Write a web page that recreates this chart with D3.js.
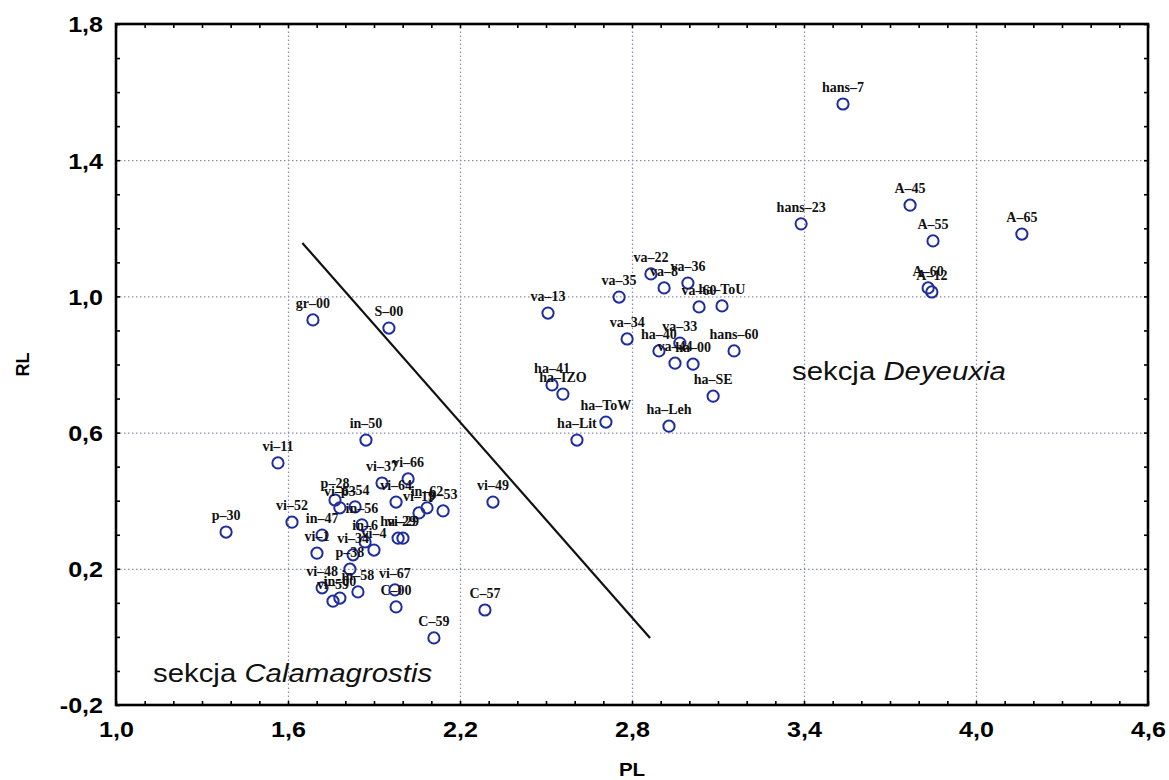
<!DOCTYPE html>
<html>
<head>
<meta charset="utf-8">
<script src="https://cdn.jsdelivr.net/npm/d3@7"></script>
<style>
  body { margin: 0; background: #ffffff; }
  svg { display: block; }
</style>
</head>
<body>
<svg id="chart" width="1169" height="780"></svg>
<script>
// Population codes with their PL / RL scores
const names = [
  "hans–7", "hans–23", "A–45", "A–55", "A–65", "A–60", "A–12",
  "va–13", "va–35", "va–22", "va–8", "va–36", "va–60", "ha–ToU",
  "va–34", "ha–40", "va–33", "va–44", "ha–00", "hans–60", "ha–SE",
  "ha–41", "ha–IZO", "ha–ToW", "ha–Leh", "ha–Lit",
  "gr–00", "S–00", "in–50", "vi–11", "p–30", "vi–37", "vi–66",
  "p–28", "vi–63", "p–54", "vi–64", "vi–19", "in–62", "p–53",
  "vi–52", "in–47", "in–56", "in–6", "ha–29", "vi–29", "vi–1",
  "vi–34", "vi–4", "p–38", "vi–48", "vi–59", "in–00", "in–58",
  "vi–67", "C–00", "C–59", "C–57", "vi–49"
];
const plValues = [
  3.536, 3.390, 3.770, 3.850, 4.160, 3.833, 3.846,
  2.507, 2.755, 2.866, 2.912, 2.995, 3.034, 3.114,
  2.783, 2.894, 2.967, 2.950, 3.013, 3.156, 3.083,
  2.521, 2.559, 2.709, 2.929, 2.608,
  1.687, 1.952, 1.872, 1.565, 1.384, 1.928, 2.019,
  1.764, 1.781, 1.834, 1.977, 2.057, 2.085, 2.141,
  1.614, 1.719, 1.858, 1.869, 1.984, 2.001, 1.701,
  1.827, 1.900, 1.816, 1.719, 1.757, 1.781, 1.844,
  1.973, 1.977, 2.109, 2.287, 2.315
];
const rlValues = [
  1.565, 1.213, 1.268, 1.163, 1.183, 1.025, 1.013,
  0.951, 0.998, 1.066, 1.025, 1.039, 0.969, 0.972,
  0.875, 0.840, 0.863, 0.804, 0.801, 0.840, 0.707,
  0.740, 0.713, 0.631, 0.619, 0.578,
  0.931, 0.907, 0.578, 0.511, 0.308, 0.452, 0.464,
  0.402, 0.379, 0.382, 0.396, 0.364, 0.379, 0.370,
  0.337, 0.299, 0.329, 0.279, 0.290, 0.290, 0.246,
  0.241, 0.255, 0.199, 0.144, 0.105, 0.114, 0.132,
  0.138, 0.088, -0.003, 0.079, 0.396
];

// Axis ticks
const xTicks = [1.0, 1.6, 2.2, 2.8, 3.4, 4.0, 4.6];
const yTicks = [-0.2, 0.2, 0.6, 1.0, 1.4, 1.8];
const xMinorTicks = d3.range(10, 47).map(v => v / 10);
const yMinorTicks = d3.range(-2, 19).map(v => v / 10);

// Dividing line between the two sections (PL, RL end points)
const dividerPL = [1.650, 2.863];
const dividerRL = [1.157, -0.003];

const points = names.map((n, i) => ({ name: n, pl: plValues[i], rl: rlValues[i] }));
const divider = dividerPL.map((v, i) => ({ pl: v, rl: dividerRL[i] }));

const plotL = 116, plotR = 1148, plotT = 24, plotB = 705;
const x = d3.scaleLinear().domain([1.0, 4.6]).range([plotL, plotR]);
const y = d3.scaleLinear().domain([-0.2, 1.8]).range([plotB, plotT]);

const svg = d3.select("#chart");
svg.append("rect").attr("width", 1169).attr("height", 780).attr("fill", "#ffffff");

const fmt = v => d3.format(".1f")(v).replace(".", ",").replace("\u2212", "-");
const STRETCH = 1.14;

// Dotted grid at the major ticks
const gridColor = "#8a8ab4";
svg.append("g")
  .attr("transform", `translate(0,${plotB})`)
  .call(d3.axisBottom(x).tickValues(xTicks.slice(1, -1)).tickSize(-(plotB - plotT)).tickFormat(""))
  .call(g => g.select(".domain").remove())
  .call(g => g.selectAll("line").attr("stroke", gridColor).attr("stroke-width", 1.2).attr("stroke-dasharray", "1.5,2.5"));
svg.append("g")
  .attr("transform", `translate(${plotL},0)`)
  .call(d3.axisLeft(y).tickValues(yTicks.slice(1, -1)).tickSize(-(plotR - plotL)).tickFormat(""))
  .call(g => g.select(".domain").remove())
  .call(g => g.selectAll("line").attr("stroke", gridColor).attr("stroke-width", 1.2).attr("stroke-dasharray", "1.5,2.5"));

// Inward minor ticks on all four sides
function minor(axis, tx, ty) {
  svg.append("g")
    .attr("transform", `translate(${tx},${ty})`)
    .call(axis.tickSize(-4).tickFormat(""))
    .call(g => g.select(".domain").remove())
    .call(g => g.selectAll("line").attr("stroke", "#000").attr("stroke-width", 1.6));
}
minor(d3.axisBottom(x).tickValues(xMinorTicks), 0, plotB);
minor(d3.axisTop(x).tickValues(xMinorTicks), 0, plotT);
minor(d3.axisLeft(y).tickValues(yMinorTicks), plotL, 0);
minor(d3.axisRight(y).tickValues(yMinorTicks), plotR, 0);

// Frame
svg.append("rect")
  .attr("x", plotL).attr("y", plotT)
  .attr("width", plotR - plotL).attr("height", plotB - plotT)
  .attr("fill", "none").attr("stroke", "#000").attr("stroke-width", 2.6);

// Tick labels
const tickFont = "'Liberation Sans', Arial, sans-serif";
svg.append("g")
  .attr("transform", `translate(0,${plotB})`)
  .call(d3.axisBottom(x).tickValues(xTicks).tickSize(0).tickFormat(fmt))
  .call(g => g.select(".domain").remove())
  .call(g => g.selectAll("text")
    .attr("y", 32).attr("dy", 0)
    .attr("transform", `scale(${STRETCH},1)`)
    .attr("font-family", tickFont).attr("font-size", 22).attr("font-weight", "bold").attr("fill", "#000"));
svg.append("g")
  .attr("transform", `translate(${plotL},0)`)
  .call(d3.axisLeft(y).tickValues(yTicks).tickSize(0).tickFormat(fmt))
  .call(g => g.select(".domain").remove())
  .call(g => g.selectAll("text")
    .attr("x", -13 / STRETCH).attr("dy", "0.36em")
    .attr("transform", `scale(${STRETCH},1)`)
    .attr("font-family", tickFont).attr("font-size", 22).attr("font-weight", "bold").attr("fill", "#000"));

// Axis titles
svg.append("text")
  .attr("transform", `translate(${(plotL + plotR) / 2},776) scale(${STRETCH},1)`)
  .attr("text-anchor", "middle")
  .attr("font-family", tickFont).attr("font-size", 18).attr("font-weight", "bold")
  .text("PL");
svg.append("text")
  .attr("transform", `translate(29,${(plotT + plotB) / 2}) rotate(-90)`)
  .attr("text-anchor", "middle")
  .attr("font-family", tickFont).attr("font-size", 18).attr("font-weight", "bold")
  .text("RL");

// Section divider
svg.append("path")
  .datum(divider)
  .attr("d", d3.line().x(d => x(d.pl)).y(d => y(d.rl)))
  .attr("fill", "none").attr("stroke", "#111").attr("stroke-width", 2.2);

// Points
const pointColor = "#1f2c9c";
svg.append("g")
  .selectAll("circle")
  .data(points)
  .join("circle")
  .attr("cx", d => x(d.pl))
  .attr("cy", d => y(d.rl))
  .attr("r", 5.6)
  .attr("fill", "none")
  .attr("stroke", pointColor)
  .attr("stroke-width", 2);

// Point labels
svg.append("g")
  .selectAll("text")
  .data(points)
  .join("text")
  .attr("x", d => x(d.pl))
  .attr("y", d => y(d.rl) - 12)
  .attr("text-anchor", "middle")
  .attr("font-family", "'Liberation Serif', 'Times New Roman', serif")
  .attr("font-size", 14)
  .attr("font-weight", "bold")
  .attr("fill", "#111")
  .text(d => d.name);

// Section names
function section(plPos, rlPos, plain, italic) {
  const t = svg.append("text")
    .attr("transform", `translate(${x(plPos)},${y(rlPos)}) scale(1.13,1)`)
    .attr("font-family", tickFont).attr("font-size", 26).attr("fill", "#111");
  t.append("tspan").text(plain);
  t.append("tspan").attr("font-style", "italic").text(italic);
}
section(3.358, 0.755, "sekcja ", "Deyeuxia");
section(1.129, -0.132, "sekcja ", "Calamagrostis");
</script>
</body>
</html>
